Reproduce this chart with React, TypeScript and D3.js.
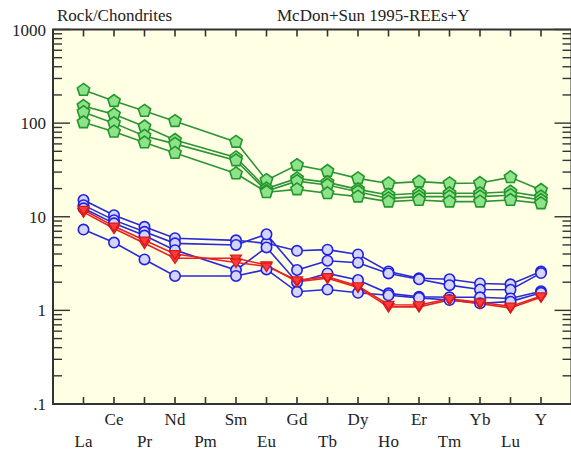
import React from 'react';
import * as d3 from 'd3';

const elements = ['La', 'Ce', 'Pr', 'Nd', 'Pm', 'Sm', 'Eu', 'Gd', 'Tb', 'Dy', 'Ho', 'Er', 'Tm', 'Yb', 'Lu', 'Y'];

const green1 = [226, 172, 135, 105, null, 63, 24.6, 35.6, 30.8, 25.7, 22.7, 23.7, 22.7, 22.9, 26.4, 19.3];
const green2 = [152, 124, 92, 66, null, 43, 20.0, 25.7, 23.3, 19.6, 17.1, 17.8, 17.8, 17.8, 18.5, 16.4];
const green3 = [131, 100, 73, 60, null, 40, 18.8, 24.0, 21.8, 18.5, 15.7, 16.4, 16.4, 16.4, 17.0, 15.1];
const green4 = [102, 81, 62, 48, null, 29, 18.3, 19.6, 17.8, 16.4, 14.5, 15.1, 14.5, 14.5, 15.1, 13.9];

const blue1 = [15.1, 10.4, 7.8, 5.9, null, 5.6, 5.2, 4.33, 4.45, 3.96, 2.6, 2.2, 2.15, 1.94, 1.9, 2.6];
const blue2 = [13.3, 9.2, 6.9, 5.2, null, 5.0, 6.5, 2.7, 3.39, 3.23, 2.48, 2.15, 1.86, 1.67, 1.66, 2.5];
const blue3 = [12.3, 8.5, 6.3, 4.4, null, 2.7, 4.7, 2.0, 2.48, 2.11, 1.52, 1.4, 1.38, 1.38, 1.34, 1.6];
const blue4 = [7.3, 5.3, 3.5, 2.33, null, 2.33, 2.74, 1.58, 1.67, 1.54, 1.45, 1.36, 1.29, 1.19, 1.24, 1.54];

const red1 = [11.2, 7.5, 5.2, 3.6, null, 3.6, 3.05, 2.02, 2.2, 1.76, 1.09, 1.09, 1.29, 1.18, 1.06, 1.38];
const red2 = [11.9, 7.9, 5.6, 4.0, null, 3.25, 2.95, 2.1, 2.28, 1.82, 1.15, 1.14, 1.33, 1.22, 1.1, 1.42];

const yTickLabels = ['.1', '1', '10', '100', '1000'];
const yTickValues = [0.1, 1, 10, 100, 1000];

const titleLeft = 'Rock/Chondrites';
const titleRight = 'McDon+Sun 1995-REEs+Y';

const W = 571;
const H = 454;
const left = 53;
const top = 29.5;
const bottom = 404;
const step = 30.5;
const right = left + step * 17;

const x = d3.scaleLinear().domain([0, 17]).range([left, right]);
const y = d3.scaleLog().domain([0.1, 1000]).range([bottom, top]);

const FONT = '"Liberation Serif", "DejaVu Serif", serif';

function pentagon(r: number) {
  const pts = d3.range(5).map((k) => {
    const a = -Math.PI / 2 + (k * 2 * Math.PI) / 5;
    return [r * Math.cos(a), r * Math.sin(a)];
  });
  return 'M' + pts.map((p) => p[0].toFixed(2) + ',' + p[1].toFixed(2)).join('L') + 'Z';
}

const triDown = (s: number) => `M${-s},${-s * 0.6}L${s},${-s * 0.6}L0,${s * 0.95}Z`;

type Series = { data: (number | null)[]; kind: 'green' | 'blue' | 'red' };

const series: Series[] = [
  { data: green1, kind: 'green' },
  { data: green2, kind: 'green' },
  { data: green3, kind: 'green' },
  { data: green4, kind: 'green' },
  { data: blue1, kind: 'blue' },
  { data: blue2, kind: 'blue' },
  { data: blue3, kind: 'blue' },
  { data: blue4, kind: 'blue' },
  { data: red1, kind: 'red' },
  { data: red2, kind: 'red' },
];

const styles = {
  green: { line: '#2f9436', fill: '#8ee28a', stroke: '#23962b' },
  blue: { line: '#2a2ad8', fill: '#d4d4ff', stroke: '#2020e0' },
  red: { line: '#e62222', fill: '#ff3a3a', stroke: '#d81818' },
};

export default function App() {
  const pts = (d: (number | null)[]) =>
    d.map((v, i) => ({ i: i + 1, v })).filter((p) => p.v != null) as { i: number; v: number }[];
  const line = d3
    .line<{ i: number; v: number }>()
    .x((p) => x(p.i))
    .y((p) => y(p.v));

  const minorTicks: { v: number; major: boolean }[] = [];
  for (let e = -1; e <= 3; e++) {
    for (let m = 1; m <= 9; m++) {
      const v = m * Math.pow(10, e);
      if (v > 1000 + 1e-9) continue;
      minorTicks.push({ v, major: m === 1 });
    }
  }

  return (
    <svg width={W} height={H} style={{ position: 'absolute', left: 0, top: 0, background: '#fff' }}>
      <rect x={left} y={top} width={right - left} height={bottom - top} fill="#ffffe3" />
      {/* data */}
      {series.map((s, k) => (
        <path key={'l' + k} d={line(pts(s.data)) || ''} fill="none" stroke={styles[s.kind].line} strokeWidth={1.6} />
      ))}
      {series.map((s, k) =>
        pts(s.data).map((p, j) => {
          const st = styles[s.kind];
          const cx = x(p.i);
          const cy = y(p.v);
          if (s.kind === 'green')
            return (
              <path key={k + '-' + j} d={pentagon(6.5)} transform={`translate(${cx},${cy})`} fill={st.fill} stroke={st.stroke} strokeWidth={1.6} />
            );
          if (s.kind === 'blue')
            return <circle key={k + '-' + j} cx={cx} cy={cy} r={5.2} fill={st.fill} stroke={st.stroke} strokeWidth={1.6} />;
          return (
            <path key={k + '-' + j} d={triDown(5.5)} transform={`translate(${cx},${cy})`} fill={st.fill} stroke={st.stroke} strokeWidth={1.2} />
          );
        })
      )}
      {/* x ticks */}
      {elements.map((el, i) => (
        <g key={'xt' + el}>
          <line x1={x(i + 1)} x2={x(i + 1)} y1={top} y2={top + 7} stroke="#333" strokeWidth={1.6} />
          <line x1={x(i + 1)} x2={x(i + 1)} y1={bottom} y2={bottom - 7} stroke="#333" strokeWidth={1.6} />
          <text
            x={x(i + 1)}
            y={i % 2 === 0 ? 447 : 425}
            textAnchor="middle"
            fontFamily={FONT}
            fontSize={17}
            fill="#222"
          >
            {el}
          </text>
        </g>
      ))}
      {/* y ticks */}
      {minorTicks.map((t, k) => (
        <g key={'yt' + k}>
          <line x1={left} x2={left + (t.major ? 17 : 9)} y1={y(t.v)} y2={y(t.v)} stroke="#333" strokeWidth={1.4} />
          <line x1={right} x2={right - (t.major ? 17 : 9)} y1={y(t.v)} y2={y(t.v)} stroke="#333" strokeWidth={1.4} />
        </g>
      ))}
      {yTickValues.map((v, k) => (
        <text key={'yl' + k} x={46} y={y(v) + 6} textAnchor="end" fontFamily={FONT} fontSize={17} fill="#222">
          {yTickLabels[k]}
        </text>
      ))}
      <rect x={left} y={top} width={right - left} height={bottom - top} fill="none" stroke="#333" strokeWidth={2} />
      <text x={57} y={21} fontFamily={FONT} fontSize={17} fill="#222">
        {titleLeft}
      </text>
      <text x={277} y={21} fontFamily={FONT} fontSize={17} fill="#222">
        {titleRight}
      </text>
    </svg>
  );
}
